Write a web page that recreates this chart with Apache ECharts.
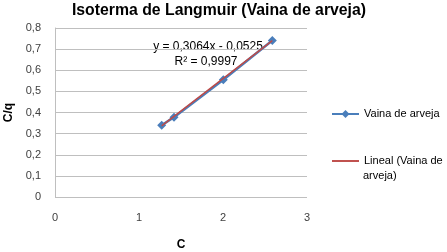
<!DOCTYPE html>
<html><head><meta charset="utf-8">
<script src="https://cdn.jsdelivr.net/npm/echarts@6/dist/echarts.min.js"></script>
<style>html,body{margin:0;padding:0;background:#fff}#c{width:447px;height:252px}</style>
</head><body><div id="c"></div>
<script>
const title = "Isoterma de Langmuir (Vaina de arveja)";
const xName = "C";
const yName = "C/q";
const cValues = [1.27, 1.417, 2.004, 2.587];
const cqValues = [0.34, 0.378, 0.555, 0.741];
const slope = 0.3064;
const intercept = -0.0525;
const r2Text = "R² = 0,9997";
const eqText = "y = 0,3064x - 0,0525";
const seriesName = "Vaina de arveja";
const trendName = "Lineal (Vaina de arveja)";
const trendLine1 = "Lineal (Vaina de";
const trendLine2 = "arveja)";

const pts = cValues.map((c, i) => [c, cqValues[i]]);
const xmin = Math.min(...cValues), xmax = Math.max(...cValues);
const trend = [[xmin, slope * xmin + intercept], [xmax, slope * xmax + intercept]];
const fmt = v => String(Math.round(v * 10) / 10).replace('.', ',');
const font = "Liberation Sans";

const chart = echarts.init(document.getElementById('c'));
chart.setOption({
  animation: false,
  textStyle: { fontFamily: font },
  title: { text: title, left: 214, top: -2, textAlign: 'center',
    textStyle: { fontSize: 15.8, fontWeight: 'bold', color: '#000', fontFamily: font } },
  grid: { left: 55, right: 140, top: 28, bottom: 55, containLabel: false, outerBoundsMode: 'none' },
  xAxis: { type: 'value', min: 0, max: 3, interval: 1,
    name: xName, nameLocation: 'middle', nameGap: 42,
    nameTextStyle: { fontSize: 12, fontWeight: 'bold', color: '#000' },
    axisLine: { show: false }, axisTick: { show: false }, splitLine: { show: false },
    axisLabel: { fontSize: 11, color: '#404040', margin: 15, formatter: fmt } },
  yAxis: { type: 'value', min: 0, max: 0.8, interval: 0.1,
    name: yName, nameLocation: 'middle', nameGap: 36, nameRotate: 90,
    nameTextStyle: { fontSize: 12, fontWeight: 'bold', color: '#000' },
    axisLine: { show: true, lineStyle: { color: '#bfbfbf', width: 1 } },
    axisTick: { show: false },
    splitLine: { show: true, lineStyle: { color: '#bfbfbf', width: 1 } },
    axisLabel: { fontSize: 11, color: '#404040', margin: 14, formatter: fmt } },
  legend: { orient: 'vertical', left: 331, top: 107, padding: 0, itemGap: 33, itemWidth: 27, itemHeight: 10,
    textStyle: { fontSize: 11, color: '#000', lineHeight: 14 },
    formatter: n => n === trendName ? trendLine1 : n,
    data: [{ name: seriesName }, { name: trendName, icon: 'path://M0,4L28,4L28,6L0,6Z' }] },
  graphic: [
    { type: 'text', x: 363, y: 176, style: { text: trendLine2, fontSize: 11, fill: '#000', fontFamily: font, verticalAlign: 'middle' } },
    { type: 'text', x: 208, y: 47, style: { text: eqText, fontSize: 12, fill: '#000', fontFamily: font, align: 'center', verticalAlign: 'middle' } },
    { type: 'text', x: 206, y: 62, style: { text: r2Text, fontSize: 12, fill: '#000', fontFamily: font, align: 'center', verticalAlign: 'middle' } }
  ],
  series: [
    { name: seriesName, type: 'line', data: pts, symbol: 'diamond', symbolSize: 9,
      lineStyle: { color: '#4a7ebb', width: 2.5 }, itemStyle: { color: '#4a7ebb' }, z: 2 },
    { name: trendName, type: 'line', data: trend, symbol: 'none',
      lineStyle: { color: '#be4b48', width: 1.5 }, itemStyle: { color: '#be4b48' }, z: 3 }
  ]
});
</script></body></html>
